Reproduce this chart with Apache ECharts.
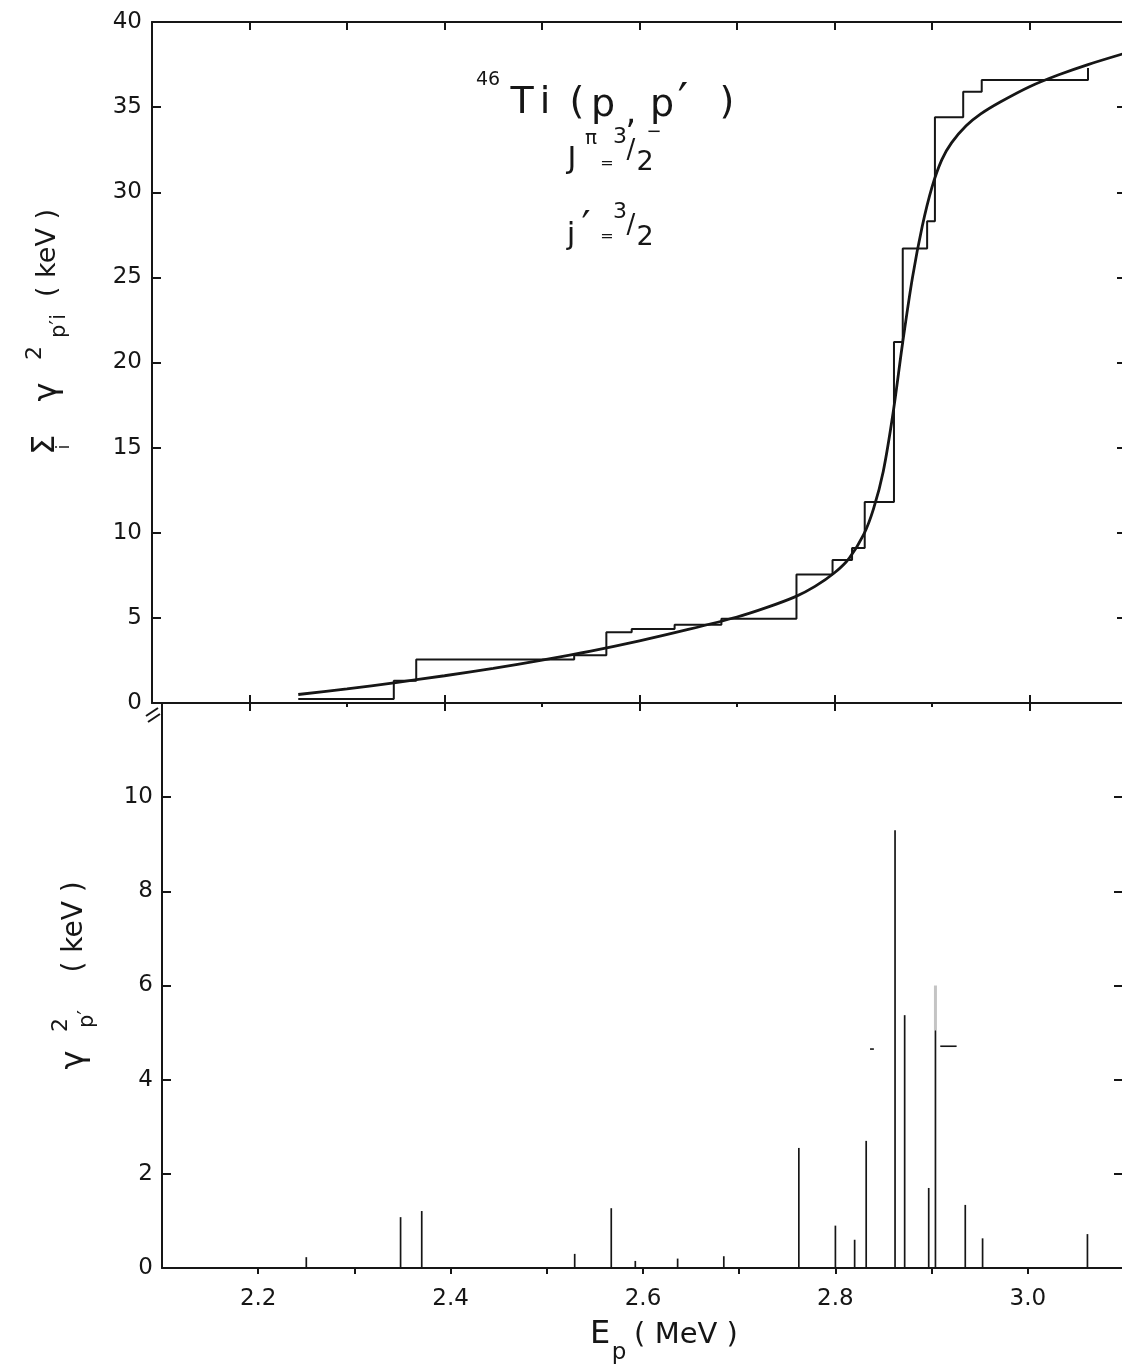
<!DOCTYPE html>
<html><head><meta charset="utf-8">
<script src="https://cdn.jsdelivr.net/npm/echarts@6/dist/echarts.min.js"></script>
<style>html,body{margin:0;padding:0;background:#fff}#c{width:1122px;height:1369px}</style>
</head><body><div id="c"></div>
<script>
// ---- data ----
const stepE   = [2.250, 2.348, 2.371, 2.533, 2.566, 2.592, 2.636, 2.684, 2.761, 2.798, 2.818, 2.831, 2.861, 2.870, 2.895, 2.903, 2.932, 2.951, 3.060];
const stepSum = [0.23, 1.30, 2.55, 2.80, 4.15, 4.35, 4.60, 4.95, 7.55, 8.40, 9.10, 11.8, 21.2, 26.7, 28.3, 34.4, 35.9, 36.6, 37.3];
const curveE = [2.25, 2.30, 2.35, 2.40, 2.45, 2.50, 2.55, 2.60, 2.65, 2.70, 2.73, 2.76, 2.78, 2.80, 2.815, 2.83, 2.84, 2.85, 2.86, 2.87, 2.88, 2.89, 2.90, 2.91, 2.92, 2.935, 2.95, 2.97, 3.00, 3.03, 3.06, 3.10];
const curveV = [0.50, 0.83, 1.20, 1.60, 2.03, 2.52, 3.05, 3.65, 4.32, 5.05, 5.60, 6.25, 6.85, 7.65, 8.50, 9.90, 11.4, 13.6, 17.0, 21.2, 25.0, 28.0, 30.3, 31.9, 32.9, 33.9, 34.6, 35.3, 36.2, 36.9, 37.5, 38.2];
const stickE = [2.250, 2.348, 2.370, 2.529, 2.567, 2.592, 2.636, 2.684, 2.762, 2.800, 2.820, 2.832, 2.862, 2.872, 2.897, 2.904, 2.935, 2.953, 3.062];
const stickV = [0.23, 1.08, 1.21, 0.30, 1.27, 0.15, 0.20, 0.25, 2.55, 0.90, 0.60, 2.70, 9.30, 5.37, 1.70, 5.05, 1.34, 0.63, 0.72];
const faintE = [2.904], faintLo = [5.05], faintHi = [6.0];
const dashE0 = [2.836, 2.909], dashE1 = [2.840, 2.926], dashV = [4.65, 4.71];
const topYTicks = [0, 5, 10, 15, 20, 25, 30, 35, 40];
const botYTicks = [0, 2, 4, 6, 8, 10];
const xMajor = [2.2, 2.4, 2.6, 2.8, 3.0];
const xLabelText = ['2.2', '2.4', '2.6', '2.8', '3.0'];
const xMinor = [2.3, 2.5, 2.7, 2.9];
const xAllTicks = [2.2, 2.3, 2.4, 2.5, 2.6, 2.7, 2.8, 2.9, 3.0];

// ---- chart ----
const FONT = 'DejaVu Sans';
const INK = '#161616';
const chart = echarts.init(document.getElementById('c'), null, {renderer: 'canvas'});
const zip = (a, b) => a.map((v, i) => [v, b[i]]);

const baseX = (grid, extra) => Object.assign({
  type: 'value', gridIndex: grid, min: 2.1, max: 3.1,
  splitLine: {show: false},
  axisLine: {show: false},
  axisLabel: {show: false},
  axisTick: {show: false}
}, extra);
const tick = (vals, len, inside) => ({show: true, customValues: vals, length: len, inside: inside, lineStyle: {color: INK, width: 2}});
const line = {show: true, onZero: false, lineStyle: {color: INK, width: 2}};

const option = {
  animation: false,
  backgroundColor: '#fff',
  grid: [
    {left: 152, top: 22, width: 975, height: 681, outerBoundsMode: 'none', containLabel: false},
    {left: 162, top: 703, width: 962, height: 565, outerBoundsMode: 'none', containLabel: false}
  ],
  xAxis: [
    baseX(0, {position: 'bottom', axisLine: line, axisTick: tick(xMajor, 8, false)}),
    baseX(0, {position: 'bottom', axisTick: tick(xMajor, 8, true)}),
    baseX(0, {position: 'bottom', axisTick: tick(xMinor, 4, false)}),
    baseX(0, {position: 'top', axisLine: line, axisTick: tick(xAllTicks, 8, true)}),
    baseX(1, {position: 'bottom', axisLine: line, axisTick: tick(xAllTicks, 6, false),
      axisLabel: {show: true, customValues: xMajor, margin: 20, fontFamily: FONT, fontSize: 23, color: INK,
        formatter: v => xLabelText[xMajor.findIndex(m => Math.abs(m - v) < 1e-6)] || ''}})
  ],
  yAxis: [
    {type: 'value', gridIndex: 0, position: 'left', min: 0, max: 40, interval: 5,
      splitLine: {show: false}, axisLine: line, axisTick: tick(topYTicks, 9, true),
      axisLabel: {show: true, customValues: topYTicks, margin: 10, fontFamily: FONT, fontSize: 23, color: INK}},
    {type: 'value', gridIndex: 0, position: 'right', min: 0, max: 40, interval: 5,
      splitLine: {show: false}, axisLine: line, axisTick: tick(topYTicks, 10, true), axisLabel: {show: false}},
    {type: 'value', gridIndex: 1, position: 'left', min: 0, max: 12, interval: 2,
      splitLine: {show: false}, axisLine: line, axisTick: tick(botYTicks, 9, true),
      axisLabel: {show: true, customValues: botYTicks, margin: 9, fontFamily: FONT, fontSize: 23, color: INK}},
    {type: 'value', gridIndex: 1, position: 'right', min: 0, max: 12, interval: 2,
      splitLine: {show: false}, axisLine: line, axisTick: tick(botYTicks, 10, true), axisLabel: {show: false}}
  ],
  series: [
    {type: 'line', name: 'sum', xAxisIndex: 0, yAxisIndex: 0, step: 'end', showSymbol: false, symbol: 'none',
      data: zip(stepE, stepSum), lineStyle: {color: INK, width: 2}},
    {type: 'line', name: 'fit', xAxisIndex: 0, yAxisIndex: 0, smooth: 0.3, showSymbol: false, symbol: 'none',
      data: zip(curveE, curveV), lineStyle: {color: INK, width: 2.8}},
    {type: 'custom', name: 'sticks', xAxisIndex: 4, yAxisIndex: 2, data: zip(stickE, stickV),
      encode: {x: 0, y: 1},
      renderItem: (params, api) => {
        const p0 = api.coord([api.value(0), 0]);
        const p1 = api.coord([api.value(0), api.value(1)]);
        return {type: 'line', shape: {x1: p0[0], y1: p0[1], x2: p1[0], y2: p1[1]}, style: {stroke: INK, lineWidth: 1.7}};
      }},
    {type: 'custom', name: 'faint', xAxisIndex: 4, yAxisIndex: 2,
      data: faintE.map((e, i) => [e, faintLo[i], faintHi[i]]), encode: {x: 0, y: [1, 2]},
      renderItem: (params, api) => {
        const p0 = api.coord([api.value(0), api.value(1)]);
        const p1 = api.coord([api.value(0), api.value(2)]);
        return {type: 'line', shape: {x1: p0[0], y1: p0[1], x2: p1[0], y2: p1[1]}, style: {stroke: '#c4c4c4', lineWidth: 3}};
      }},
    {type: 'custom', name: 'dash', xAxisIndex: 4, yAxisIndex: 2,
      data: dashE0.map((e, i) => [e, dashE1[i], dashV[i]]), encode: {x: [0, 1], y: 2},
      renderItem: (params, api) => {
        const p0 = api.coord([api.value(0), api.value(2)]);
        const p1 = api.coord([api.value(1), api.value(2)]);
        return {type: 'line', shape: {x1: p0[0], y1: p0[1], x2: p1[0], y2: p1[1]}, style: {stroke: INK, lineWidth: 1.6}};
      }}
  ],
  graphic: []
};

const T = (text, x, y, fs, extra) => Object.assign({type: 'text', x: x, y: y,
  style: {text: text, fontFamily: FONT, fontSize: fs, fill: INK, align: 'center', verticalAlign: 'middle'}}, extra || {});

option.graphic = [
  // annotation
  T('46', 488, 80, 19),
  T('T', 522, 103, 38), T('i', 545, 103, 38),
  T('(', 577, 103, 38), T('p', 603, 106, 38), T(',', 631, 114, 34),
  T('p', 662, 106, 38), T('′', 683, 104, 46), T(')', 727, 103, 38),
  T('J', 572, 160, 30), T('π', 591, 139, 20), T('=', 607, 164, 16),
  T('3', 620, 137, 22), T('/', 631, 151, 26), T('2', 645, 163, 27), T('−', 654, 132, 18),
  T('j', 571, 236, 31), T('′', 586, 230, 40), T('=', 607, 237, 16),
  T('3', 620, 212, 22), T('/', 631, 226, 26), T('2', 645, 238, 27),
  // top y title (rotated)
  {type: 'group', x: 48, y: 337, rotation: Math.PI / 2, children: [
    T('Σ', -108, -2, 32), T('i', -110, 17, 17),
    T('γ', -55, 0, 32), T('2', -16, -13, 22), T('p′i', 11, 12, 21),
    T('( keV )', 84, 0, 27)
  ]},
  // bottom y title (rotated)
  {type: 'group', x: 75, y: 975, rotation: Math.PI / 2, children: [
    T('γ', -85, 0, 32), T('2', -50, -14, 22), T('p′', -44, 13, 21),
    T('( keV )', 48, 0, 28)
  ]},
  // x title
  T('E', 600, 1335, 32), T('p', 619, 1353, 23), T('( MeV )', 686, 1335, 29),
  // axis break mark
  {type: 'polyline', shape: {points: [[146, 716], [158, 708]]}, style: {stroke: INK, lineWidth: 2}},
  {type: 'polyline', shape: {points: [[148, 722], [160, 714]]}, style: {stroke: INK, lineWidth: 2}}
];

chart.setOption(option);
</script>
</body></html>
